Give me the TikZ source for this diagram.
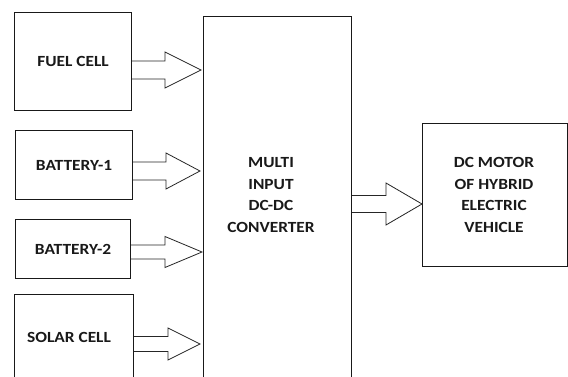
\documentclass[tikz,border=0pt]{standalone}
\usepackage{fontspec}
\newfontfamily\lblfont[FakeStretch=1.12]{Carlito}
\usetikzlibrary{calc}
\tikzset{
  box/.style={draw=black!90, line width=1.2pt, rectangle, anchor=north west, inner sep=0pt},
  lbl/.style={font={\lblfont\bfseries\fontsize{15.5}{21.5}\selectfont}, align=center, text=black!90},
  arrowline/.style={draw=black!85, line width=0.8pt, fill=white, line join=miter}
}
% block arrow: start, tip, shaft half width, head half width, head length
\newcommand\blockarr[5]{%
  \draw[arrowline] let \p1=(#1), \p2=(#2) in
    (\x1,\y1+#3) -- (\x2-#5,\y1+#3) -- (\x2-#5,\y1+#4) -- (\x2,\y1)
    -- (\x2-#5,\y1-#4) -- (\x2-#5,\y1-#3) -- (\x1,\y1-#3);}
\begin{document}
\begin{tikzpicture}[x=1pt,y=-1pt]
\useasboundingbox (0,0) rectangle (568,377);
\fill[white] (0,0) rectangle (568,377);
\clip (0,0) rectangle (568,377);

\node[box, minimum width=117pt, minimum height=98pt] (fuel) at (14,12) {};
\node[lbl] at (fuel.center) {FUEL CELL};
\node[box, minimum width=117pt, minimum height=69pt] (bat1) at (15,130) {};
\node[lbl] at (bat1.center) {BATTERY-1};
\node[box, minimum width=115pt, minimum height=59pt] (bat2) at (15,219) {};
\node[lbl] at (bat2.center) {BATTERY-2};
\node[box, minimum width=119pt, minimum height=100pt] (solar) at (14,294) {};
\node[lbl] at (69,337) {SOLAR CELL};

\node[box, minimum width=148pt, minimum height=380pt] (conv) at (203,16) {};
\node[lbl] (convtext) at (271,195) {MULTI\\INPUT\\DC-DC\\CONVERTER};

\node[box, minimum width=144.5pt, minimum height=143pt] (motor) at (422,123) {};
\node[lbl] (motortext) at (494,195) {DC MOTOR\\OF HYBRID\\ELECTRIC\\VEHICLE};

\coordinate (fs) at (fuel.east |- 0,70);
\coordinate (ft) at ($(conv.west |- 0,70)+(-2,0)$);
\coordinate (b1s) at (bat1.east |- 0,171);
\coordinate (b1t) at ($(conv.west |- 0,171)+(-3,0)$);
\coordinate (b2s) at (bat2.east |- 0,252);
\coordinate (b2t) at ($(conv.west |- 0,252)+(-1,0)$);
\coordinate (ss) at (solar.east |- 0,344);
\coordinate (st) at ($(conv.west |- 0,344)+(-3,0)$);
\coordinate (os) at (conv.east |- 0,204);
\coordinate (ot) at (motor.west |- 0,204);

\blockarr{fs}{ft}{9pt}{18pt}{36pt}
\blockarr{b1s}{b1t}{9pt}{18pt}{34pt}
\blockarr{b2s}{b2t}{7pt}{15.5pt}{37pt}
\blockarr{ss}{st}{7.5pt}{16pt}{32pt}
\blockarr{os}{ot}{8.5pt}{21pt}{36pt}
\end{tikzpicture}
\end{document}
